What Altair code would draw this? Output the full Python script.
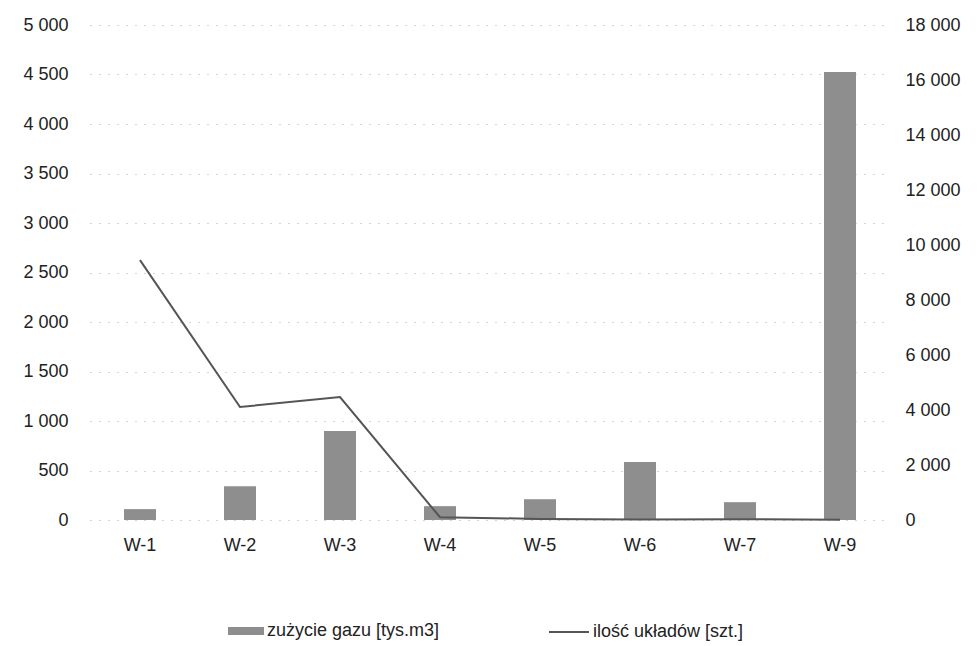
import altair as alt
import pandas as pd

categories = ["W-1", "W-2", "W-3", "W-4", "W-5", "W-6", "W-7", "W-9"]
gas = [110, 340, 900, 140, 210, 585, 180, 4525]
units = [9450, 4110, 4470, 100, 40, 20, 30, 10]
left_ticks = list(range(0, 5001, 500))
right_ticks = list(range(0, 18001, 2000))

gas_name = "zużycie gazu [tys.m3]"
units_name = "ilość układów [szt.]"

df = pd.DataFrame({"cat": categories, "gas": gas, "units": units,
                   "s1": gas_name, "s2": units_name})

FONT = "Liberation Sans"
FS = 18
label_expr = "replace(format(datum.value, ','), ',', ' ')"

x = alt.X("cat:N", sort=categories, title=None,
          scale=alt.Scale(paddingInner=0.68, paddingOuter=0.34),
          axis=alt.Axis(labelAngle=0, ticks=False, domain=False, labelPadding=16,
                        labelFontSize=FS, labelColor="#222", labelFont=FONT))

bars = alt.Chart(df).mark_bar(color="#8e8e8e").encode(
    x=x,
    y=alt.Y("gas:Q", title=None,
            scale=alt.Scale(domain=[0, 5000], nice=False),
            axis=alt.Axis(values=left_ticks, labelExpr=label_expr, ticks=False, domain=False,
                          labelPadding=22, labelFontSize=FS, labelColor="#222", labelFont=FONT,
                          grid=True, gridColor="#a8a8a8", gridDash=[1, 8], gridWidth=1)),
    color=alt.Color("s1:N", scale=alt.Scale(domain=[gas_name], range=["#8e8e8e"]),
                    legend=alt.Legend(title=None, orient="none", legendX=138, legendY=588,
                                      symbolType="M-1,-0.22H1V0.22H-1Z", symbolSize=1296,
                                      symbolStrokeWidth=0, symbolOpacity=1,
                                      symbolFillColor="#8e8e8e", labelLimit=400,
                                      labelFontSize=FS, labelFont=FONT,
                                      labelColor="#222", labelOffset=3)),
)

line = alt.Chart(df).mark_line(color="#555555", strokeWidth=2).encode(
    x=x,
    y=alt.Y("units:Q", title=None,
            scale=alt.Scale(domain=[0, 18000], nice=False),
            axis=alt.Axis(orient="right", values=right_ticks, labelExpr=label_expr, ticks=False,
                          domain=False, grid=False, labelPadding=15, labelFontSize=FS,
                          labelColor="#222", labelFont=FONT)),
    color=alt.Color("s2:N", scale=alt.Scale(domain=[units_name], range=["#555555"]),
                    legend=alt.Legend(title=None, orient="none", legendX=458, legendY=586,
                                      symbolType="stroke", symbolSize=1600, labelLimit=400,
                                      symbolStrokeWidth=2, labelFontSize=FS, labelFont=FONT,
                                      labelColor="#222", labelOffset=3)),
)

chart = alt.layer(bars, line).resolve_scale(y="independent", color="independent").properties(
    width=800, height=495,
    background="white",
    autosize=alt.AutoSizeParams(type="none"),
    padding={"left": 82, "top": 17, "right": 79, "bottom": 130},
).configure_view(stroke=None)

chart.save("out.html", embed_options={"renderer": "svg", "actions": False})
